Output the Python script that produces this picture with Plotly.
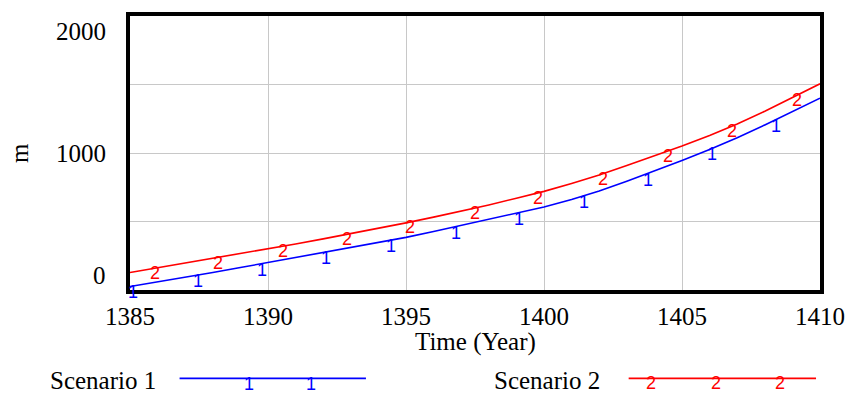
import numpy as np
import plotly.graph_objects as go

# ---- data ----
years = list(range(1385, 1411))
scenario1 = [25, 58, 93, 128, 164, 200, 236, 272, 309, 346, 384, 427, 471, 515, 558,
             606, 660, 722, 793, 868, 945, 1025, 1112, 1205, 1300, 1400]
scenario2 = [128, 162, 196, 230, 265, 300, 336, 373, 411, 450, 490, 532, 575, 621, 670,
             720, 778, 840, 908, 978, 1051, 1128, 1212, 1305, 1405, 1505]
marker1_years = [1385.1, 1387.45, 1389.8, 1392.1, 1394.45, 1396.8, 1399.1, 1401.45, 1403.75, 1406.1, 1408.4]
marker2_years = [1385.9, 1388.2, 1390.55, 1392.85, 1395.15, 1397.5, 1399.8, 1402.15, 1404.5, 1406.8, 1409.15]
xtick_vals = [1385, 1390, 1395, 1400, 1405, 1410]
ytick_vals = [0, 1000, 2000]
series_names = ["Scenario 1", "Scenario 2"]

BLUE = "#0000ff"
RED = "#ff0000"
SERIF = "Liberation Serif, Times New Roman, serif"
SANS = "Liberation Sans, Arial, sans-serif"
FS = 25
SHIFT1, SHIFT2 = 6, 7

fig = go.Figure()
fig.add_trace(go.Scatter(x=years, y=scenario1, mode="lines", line=dict(color=BLUE, width=1.6),
                         name=series_names[0], hoverinfo="skip"))
fig.add_trace(go.Scatter(x=years, y=scenario2, mode="lines", line=dict(color=RED, width=1.6),
                         name=series_names[1], hoverinfo="skip"))

W, H = 857, 393
L, R, T, B = 130, 31, 14, 103
pw, ph = W - L - R, H - T - B


def px(x):
    return (x - L) / pw


def py(y):
    return (H - B - y) / ph


annotations = []
# series markers ("1" / "2" glyphs hanging from the lines)
m1y = np.interp(marker1_years, years, scenario1)
m2y = np.interp(marker2_years, years, scenario2)
for xv, yv in zip(marker1_years, m1y):
    annotations.append(dict(x=xv, y=yv, xref="x", yref="y", text="1", showarrow=False,
                            xanchor="center", yanchor="top", yshift=SHIFT1,
                            font=dict(family=SANS, size=18, color=BLUE)))
for xv, yv in zip(marker2_years, m2y):
    annotations.append(dict(x=xv, y=yv, xref="x", yref="y", text="2", showarrow=False,
                            xanchor="center", yanchor="top", yshift=SHIFT2,
                            font=dict(family=SANS, size=18, color=RED)))
# y tick labels
for v in ytick_vals:
    if v == max(ytick_vals):
        ya, ys = "top", 0
    elif v == min(ytick_vals):
        ya, ys = "bottom", -1
    else:
        ya, ys = "middle", 0
    annotations.append(dict(x=0, xref="paper", y=v, yref="y", text=str(v), showarrow=False,
                            xanchor="right", yanchor=ya, xshift=-22, yshift=ys,
                            font=dict(family=SERIF, size=FS, color="black")))
# axis titles
annotations.append(dict(x=0.5, xref="paper", y=py(342), yref="paper", text="Time (Year)",
                        showarrow=False, xanchor="center", yanchor="middle",
                        font=dict(family=SERIF, size=FS, color="black")))
annotations.append(dict(x=px(18), xref="paper", y=0.5, yref="paper", text="m", textangle=-90,
                        showarrow=False, xanchor="center", yanchor="middle",
                        font=dict(family=SERIF, size=FS, color="black")))
# legend
leg_y = py(379)
annotations.append(dict(x=px(158), xref="paper", y=py(381), yref="paper", text=series_names[0],
                        showarrow=False, xanchor="right", yanchor="middle",
                        font=dict(family=SERIF, size=FS, color="black")))
annotations.append(dict(x=px(606), xref="paper", y=py(381), yref="paper", text=series_names[1],
                        showarrow=False, xanchor="right", yanchor="middle",
                        font=dict(family=SERIF, size=FS, color="black")))
for xx in [250, 313]:
    annotations.append(dict(x=px(xx), xref="paper", y=leg_y, yref="paper", text="1",
                            showarrow=False, xanchor="center", yanchor="top", yshift=SHIFT1,
                            font=dict(family=SANS, size=18, color=BLUE)))
for xx in [656, 721, 786]:
    annotations.append(dict(x=px(xx), xref="paper", y=leg_y, yref="paper", text="2",
                            showarrow=False, xanchor="center", yanchor="top", yshift=SHIFT2,
                            font=dict(family=SANS, size=18, color=RED)))

shapes = [
    dict(type="line", xref="paper", yref="paper", x0=px(180), x1=px(368), y0=leg_y, y1=leg_y,
         line=dict(color=BLUE, width=1.6)),
    dict(type="line", xref="paper", yref="paper", x0=px(633), x1=px(822), y0=leg_y, y1=leg_y,
         line=dict(color=RED, width=1.6)),
]

fig.update_layout(
    width=W, height=H,
    margin=dict(l=L, r=R, t=T, b=B, pad=0),
    paper_bgcolor="white", plot_bgcolor="white",
    showlegend=False,
    annotations=annotations,
    shapes=shapes,
    xaxis=dict(range=[1385, 1410], tickvals=xtick_vals, ticktext=[str(v) for v in xtick_vals],
               showgrid=True, gridcolor="#c8c8c8", gridwidth=1, zeroline=False,
               showline=True, linecolor="black", linewidth=3.5, mirror=True,
               ticks="outside", ticklen=1, tickcolor="rgba(0,0,0,0)",
               tickfont=dict(family=SERIF, size=FS, color="black")),
    yaxis=dict(range=[0, 2000], dtick=500, showticklabels=False,
               showgrid=True, gridcolor="#c8c8c8", gridwidth=1, zeroline=False,
               showline=True, linecolor="black", linewidth=3.5, mirror=True, ticks=""),
)

fig.write_html("out.html", config={"displayModeBar": False},
               post_script="document.body.style.margin='0px';document.body.style.padding='0px';")
